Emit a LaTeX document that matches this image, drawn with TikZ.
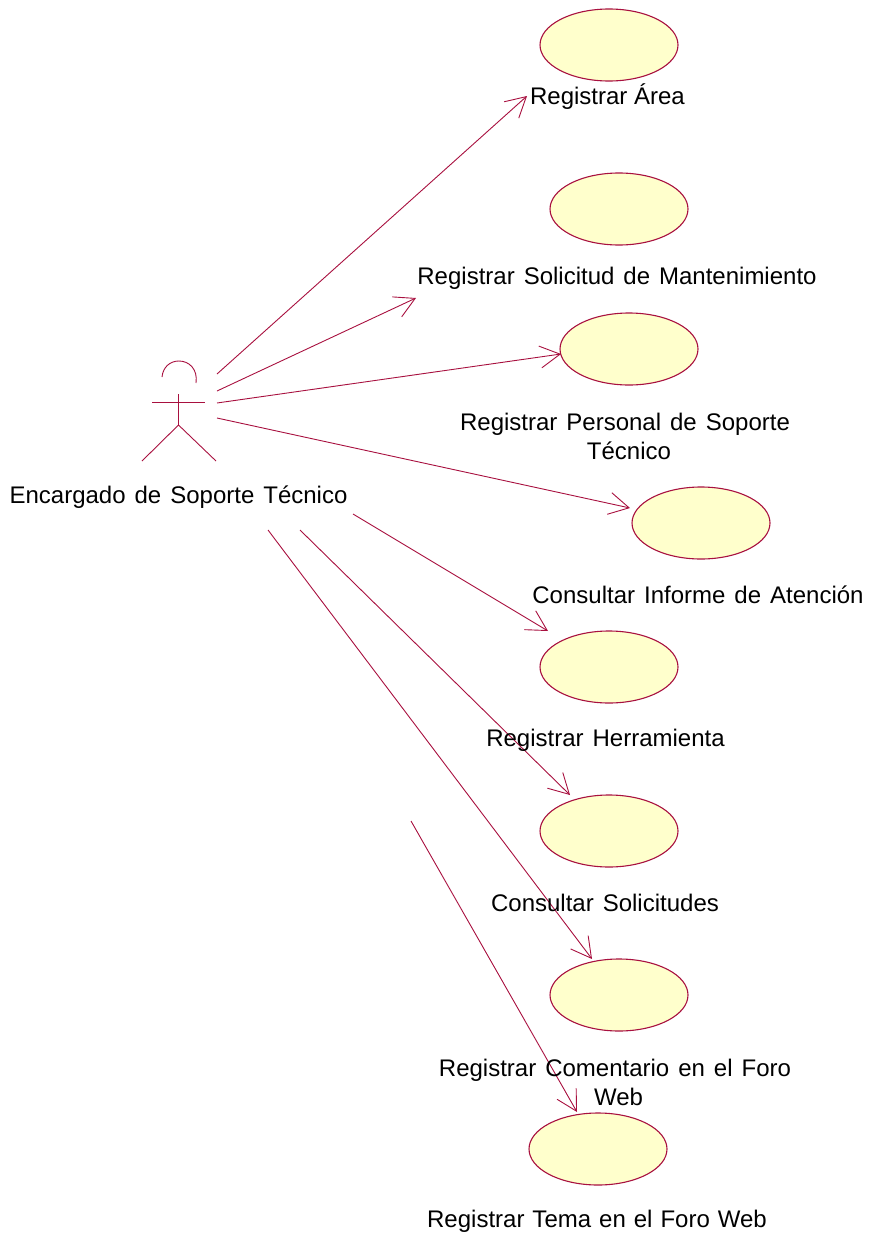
\documentclass[tikz,border=0pt]{standalone}
\usepackage{fontspec}
\setmainfont{Liberation Sans}
\usetikzlibrary{arrows.meta,shapes.geometric}
\definecolor{umlline}{HTML}{A8103F}
\definecolor{umlfill}{HTML}{FFFFCC}
\newcommand{\wsp}{\hspace{9pt}}
\newcommand{\wsq}{\hspace{8pt}}
\tikzset{
  usecase/.style={ellipse,draw=umlline,fill=umlfill,line width=1.1pt,minimum width=138pt,minimum height=72pt,inner sep=0pt},
  assoc/.style={draw=umlline,line width=0.9pt,-{Straight Barb[length=20pt,width=22pt,line width=0.9pt]}},
  actorline/.style={draw=umlline,line width=0.9pt},
  lbl/.style={font=\fontsize{24}{29}\selectfont,text=black,inner sep=0pt,align=center,anchor=center},
}
\begin{document}
\begin{tikzpicture}[x=1pt,y=-1pt]
\useasboundingbox (0,0) rectangle (868,1237);
\node[usecase] (uc1) at (609,45) {};
\node[usecase] (uc2) at (619,209) {};
\node[usecase] (uc3) at (629,349) {};
\node[usecase] (uc4) at (701,523) {};
\node[usecase] (uc5) at (609,667) {};
\node[usecase] (uc6) at (609,831) {};
\node[usecase] (uc7) at (619,995) {};
\node[usecase] (uc8) at (598,1149) {};
% actor
\coordinate (armL) at (152,402);
\coordinate (armR) at (205,402);
\coordinate (neck) at (178.5,394);
\coordinate (hip) at (178.5,425);
\coordinate (legL) at (142,461);
\coordinate (legR) at (216,461);
\draw[actorline] (162,377) .. controls (163,367) and (170,361) .. (179,361) .. controls (189,361) and (198,369) .. (196,383);
\draw[actorline] (armL) -- (armR);
\draw[actorline] (neck) -- (hip);
\draw[actorline] (legL) -- (hip) -- (legR);
% connector ends
\coordinate (s1) at (217,374); \coordinate (t1) at (527,96);
\coordinate (s2) at (217,391); \coordinate (t2) at (416,298);
\coordinate (s3) at (217,403); \coordinate (t3) at (561,354);
\coordinate (s4) at (217,418); \coordinate (t4) at (630,508);
\coordinate (s5) at (353,514); \coordinate (t5) at (548,631);
\coordinate (s6) at (300,530); \coordinate (t6) at (570,795);
\coordinate (s7) at (268,530); \coordinate (t7) at (592,959);
\coordinate (s8) at (411,821); \coordinate (t8) at (577,1112);
\foreach \i in {1,...,8} \draw[assoc] (s\i) -- (t\i);
% labels
\node[lbl] (l0) at (178.5,497) {Encargado\wsp de\wsp Soporte\wsp Técnico};
\node[lbl] (l1) at (607.5,97) {Registrar\ Área};
\node[lbl] (l2) at (617,278) {Registrar\wsp Solicitud\wsp de\wsp Mantenimiento};
\node[lbl] (l3) at (625,436.5) {Registrar\wsp Personal\wsp de\wsp Soporte\\\hspace{8pt}Técnico};
\node[lbl] (l4) at (698,595) {Consultar\wsp Informe\wsp de\wsp Atención};
\node[lbl] (l5) at (605.5,740) {Registrar\wsp Herramienta};
\node[lbl] (l6) at (605,903) {Consultar\wsp Solicitudes};
\node[lbl] (l7) at (615,1082.5) {Registrar\wsp Comentario\wsp en\wsp el\wsp Foro\\\hspace{7pt}Web};
\node[lbl] (l8) at (597,1221) {Registrar\wsq Tema\wsq en\wsq el\wsq Foro\wsq Web};
\end{tikzpicture}
\end{document}
